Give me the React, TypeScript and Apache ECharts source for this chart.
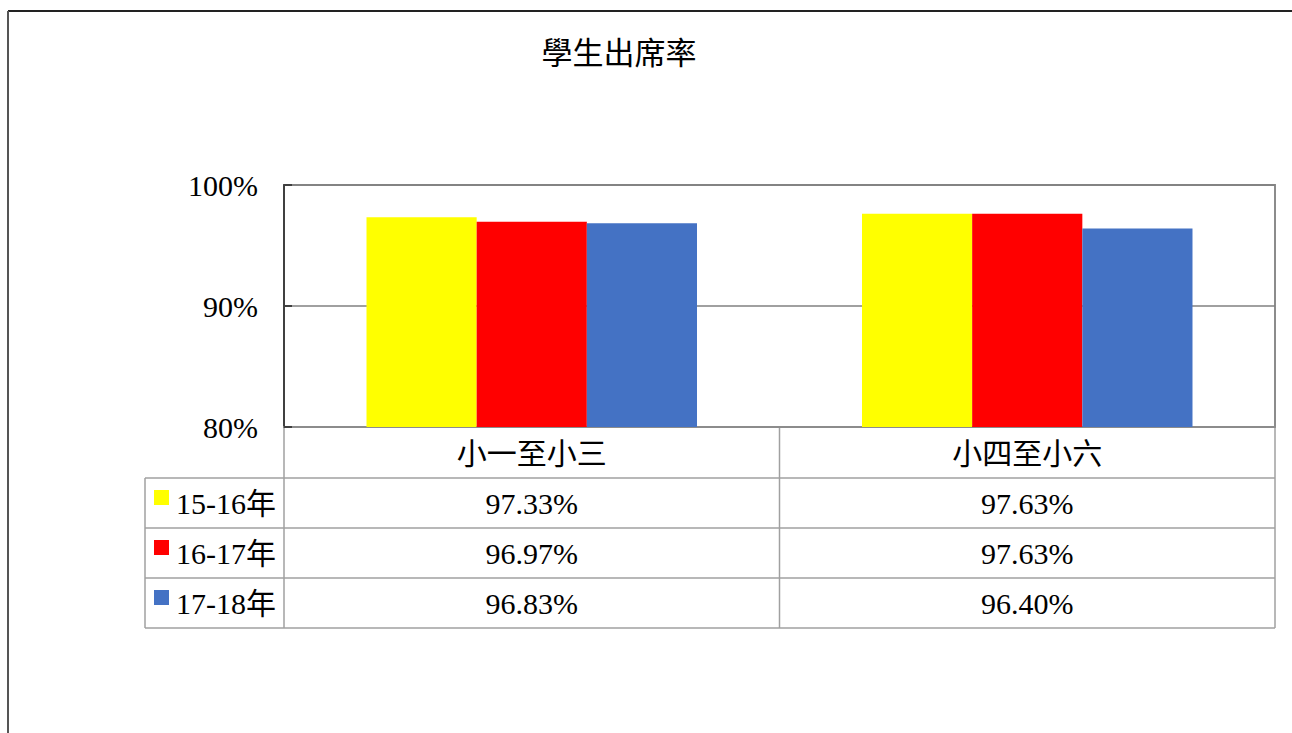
import React, { useEffect, useRef } from "react";
import * as echarts from "echarts";

const titleText = "學生出席率";
const categories = ["小一至小三", "小四至小六"];
const seriesNames = ["15-16年", "16-17年", "17-18年"];
const seriesColors = ["#FFFF00", "#FF0000", "#4472C4"];
const values1516 = [97.33, 97.63];
const values1617 = [96.97, 97.63];
const values1718 = [96.83, 96.4];
const seriesValues = [values1516, values1617, values1718];
const yMin = 80;
const yMax = 100;
const yInterval = 10;

const FONT = "Liberation Serif, Noto Sans CJK TC, serif";

export default function App() {
  const ref = useRef<HTMLDivElement>(null);

  useEffect(() => {
    if (!ref.current) return;
    const chart = echarts.init(ref.current, undefined, { renderer: "svg" });

    const gridLeft = 284;
    const gridTop = 185;
    const gridWidth = 991;
    const gridHeight = 242;

    chart.setOption({
      animation: false,
      textStyle: { fontFamily: FONT },
      title: {
        text: titleText,
        left: 614,
        top: 33,
        textAlign: "center",
        textStyle: { fontFamily: FONT, fontSize: 31, fontWeight: "normal", color: "#000" },
      },
      grid: {
        left: gridLeft,
        top: gridTop,
        width: gridWidth,
        height: gridHeight,
        show: true,
        borderColor: "#8c8c8c",
        borderWidth: 2,
        backgroundColor: "transparent",
      },
      xAxis: {
        type: "category",
        data: categories,
        axisLine: { show: true, lineStyle: { color: "#8c8c8c", width: 2 } },
        axisTick: { show: false },
        axisLabel: { fontFamily: FONT, fontSize: 30, color: "#000", margin: 11 },
      },
      yAxis: {
        type: "value",
        min: yMin,
        max: yMax,
        interval: yInterval,
        axisLine: { show: true, lineStyle: { color: "#404040", width: 2 } },
        axisTick: { show: true, inside: true, length: 8, lineStyle: { color: "#404040", width: 2 } },
        splitLine: { show: true, lineStyle: { color: "#808080", width: 1.5 } },
        axisLabel: {
          fontFamily: FONT,
          fontSize: 30,
          color: "#000",
          margin: 26,
          formatter: "{value}%",
        },
      },
      series: seriesNames.map((name, i) => ({
        name,
        type: "bar",
        data: seriesValues[i],
        barGap: "0%",
        barCategoryGap: "33.3%",
        itemStyle: { color: seriesColors[i] },
      })),
    });

    const centers = categories.map((c) => chart.convertToPixel({ xAxisIndex: 0 }, c) as number);
    const right = gridLeft + gridWidth;
    const mid = (centers[0] + centers[1]) / 2;
    const axisY = gridTop + gridHeight;
    const rowLines = [478, 528, 578, 628];
    const tableLeft = 145;
    const lineStyle = { stroke: "#a0a0a0", lineWidth: 1.5 };

    const graphics: any[] = [];
    graphics.push({ type: "line", shape: { x1: 8, y1: 11, x2: 1292, y2: 11 }, style: { stroke: "#222", lineWidth: 2 } });
    graphics.push({ type: "line", shape: { x1: 8, y1: 11, x2: 8, y2: 733 }, style: { stroke: "#555", lineWidth: 2 } });
    rowLines.forEach((y) => {
      graphics.push({ type: "line", shape: { x1: tableLeft, y1: y, x2: right, y2: y }, style: lineStyle });
    });
    graphics.push({ type: "line", shape: { x1: tableLeft, y1: rowLines[0], x2: tableLeft, y2: rowLines[3] }, style: lineStyle });
    graphics.push({ type: "line", shape: { x1: gridLeft, y1: axisY, x2: gridLeft, y2: rowLines[3] }, style: lineStyle });
    graphics.push({ type: "line", shape: { x1: mid, y1: axisY, x2: mid, y2: rowLines[3] }, style: lineStyle });
    graphics.push({ type: "line", shape: { x1: right, y1: axisY, x2: right, y2: rowLines[3] }, style: lineStyle });

    seriesNames.forEach((name, i) => {
      const rowTop = rowLines[i];
      const cy = rowTop + 25;
      graphics.push({
        type: "rect",
        shape: { x: 154, y: rowTop + 12, width: 15, height: 15 },
        style: { fill: seriesColors[i] },
      });
      graphics.push({
        type: "text",
        x: 176,
        y: cy,
        style: {
          text: name,
          fontFamily: FONT,
          fontSize: 30,
          fill: "#000",
          align: "left",
          verticalAlign: "middle",
        },
      });
      seriesValues[i].forEach((v, j) => {
        graphics.push({
          type: "text",
          x: centers[j],
          y: cy,
          style: {
            text: v.toFixed(2) + "%",
            fontFamily: FONT,
            fontSize: 30,
            fill: "#000",
            align: "center",
            verticalAlign: "middle",
          },
        });
      });
    });

    chart.setOption({ graphic: graphics });

    return () => chart.dispose();
  }, []);

  return (
    <div
      ref={ref}
      style={{ position: "absolute", left: 0, top: 0, width: 1292, height: 733, background: "#fff" }}
    />
  );
}
